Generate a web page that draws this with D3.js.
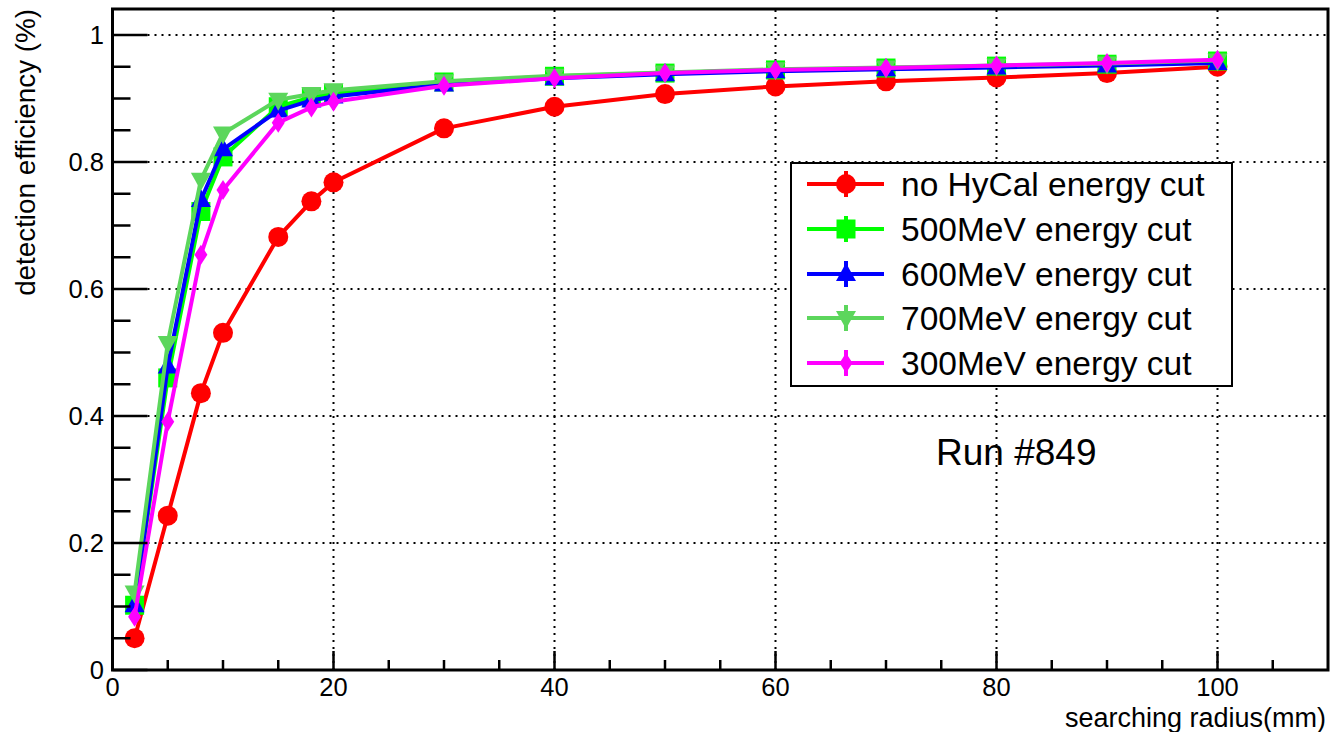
<!DOCTYPE html>
<html>
<head>
<meta charset="utf-8">
<script src="https://cdn.jsdelivr.net/npm/d3@7"></script>
<style>
  html, body { margin: 0; padding: 0; background: #fff; }
  svg { display: block; font-family: "Liberation Sans", Arial, Helvetica, sans-serif; }
</style>
</head>
<body>
<svg id="chart" width="1331" height="732"></svg>
<script>
// ---- data ----
const radius = [2, 5, 8, 10, 15, 18, 20, 30, 40, 50, 60, 70, 80, 90, 100];
const effNoCut = [0.050, 0.243, 0.436, 0.531, 0.682, 0.738, 0.768, 0.853, 0.887, 0.907, 0.919, 0.927, 0.933, 0.940, 0.950];
const eff500 = [0.102, 0.460, 0.722, 0.808, 0.887, 0.902, 0.908, 0.926, 0.935, 0.940, 0.945, 0.948, 0.951, 0.954, 0.959];
const eff600 = [0.102, 0.478, 0.740, 0.820, 0.881, 0.897, 0.903, 0.922, 0.932, 0.938, 0.943, 0.946, 0.949, 0.952, 0.956];
const eff700 = [0.122, 0.515, 0.772, 0.845, 0.898, 0.907, 0.913, 0.927, 0.936, 0.941, 0.946, 0.949, 0.952, 0.955, 0.960];
const eff300 = [0.084, 0.391, 0.654, 0.756, 0.862, 0.886, 0.895, 0.920, 0.932, 0.940, 0.945, 0.948, 0.952, 0.956, 0.961];
const seriesNames = ["no HyCal energy cut", "500MeV energy cut", "600MeV energy cut", "700MeV energy cut", "300MeV energy cut"];
const seriesColors = ["#ff0000", "#00ff00", "#0000ff", "#5cd65c", "#ff00ff"];
const seriesMarkers = ["circle", "square", "triangleUp", "triangleDown", "diamond"];
const xTicks = [0, 20, 40, 60, 80, 100];
const yTicks = [0, 0.2, 0.4, 0.6, 0.8, 1];
const xTitle = "searching radius(mm)";
const yTitle = "detection efficiency (%)";
const runLabel = "Run #849";

const seriesValues = [effNoCut, eff500, eff600, eff700, eff300];

// ---- layout ----
const svg = d3.select("#chart");
const L = 112.5, R = 1328, T = 9, B = 670;
const x = d3.scaleLinear().domain([0, 110]).range([L, R]);
const y = d3.scaleLinear().domain([0, 1]).range([B, 35]);

// grid
const grid = svg.append("g");
xTicks.filter(t => t > 0).forEach(t => {
  grid.append("line").attr("x1", x(t)).attr("x2", x(t)).attr("y1", B).attr("y2", T)
    .attr("stroke", "#000").attr("stroke-width", 2).attr("stroke-dasharray", "2,5");
});
yTicks.filter(t => t > 0).forEach(t => {
  grid.append("line").attr("x1", L).attr("x2", R).attr("y1", y(t)).attr("y2", y(t))
    .attr("stroke", "#000").attr("stroke-width", 2).attr("stroke-dasharray", "2,5");
});

// markers
function markerPath(type) {
  switch (type) {
    case "circle": return "M-10,0A10,10 0 1,0 10,0A10,10 0 1,0 -10,0Z";
    case "square": return "M-9.5,-9.5H9.5V9.5H-9.5Z";
    case "triangleUp": return "M0,-11L10,7L-10,7Z";
    case "triangleDown": return "M0,11L10,-7L-10,-7Z";
    case "diamond": return "M0,-10L6.5,0L0,10L-6.5,0Z";
  }
}

const line = d3.line().x(d => x(d[0])).y(d => y(d[1]));
const data = svg.append("g");
seriesValues.forEach((vals, i) => {
  const pts = radius.map((r, j) => [r, vals[j]]);
  data.append("path").attr("d", line(pts)).attr("fill", "none")
    .attr("stroke", seriesColors[i]).attr("stroke-width", 4).attr("stroke-linejoin", "round");
  data.selectAll(null).data(pts).enter().append("path")
    .attr("d", markerPath(seriesMarkers[i]))
    .attr("transform", d => `translate(${x(d[0])},${y(d[1])})`)
    .attr("fill", seriesColors[i]);
});

// frame
svg.append("rect").attr("x", L).attr("y", T).attr("width", R - L).attr("height", B - T)
  .attr("fill", "none").attr("stroke", "#000").attr("stroke-width", 3);

// axes ticks
const axg = svg.append("g");
d3.range(0, 110, 5).forEach(t => {
  const major = t % 20 === 0;
  axg.append("line").attr("x1", x(t)).attr("x2", x(t)).attr("y1", B).attr("y2", B - (major ? 19 : 10))
    .attr("stroke", "#000").attr("stroke-width", 2.5);
});
xTicks.forEach(t => {
  axg.append("text").attr("x", x(t)).attr("y", 696).attr("text-anchor", "middle")
    .attr("font-size", 25.5).text(t);
});
d3.range(0, 1.0001, 0.05).forEach(t => {
  const major = Math.abs(t / 0.2 - Math.round(t / 0.2)) < 1e-6;
  axg.append("line").attr("x1", L).attr("x2", L + (major ? 35 : 18)).attr("y1", y(t)).attr("y2", y(t))
    .attr("stroke", "#000").attr("stroke-width", 2.5);
});
yTicks.forEach(t => {
  axg.append("text").attr("x", 104).attr("y", y(t) + 9).attr("text-anchor", "end")
    .attr("font-size", 25.5).text(d3.format("")(+t.toFixed(1)));
});

// titles
svg.append("text").attr("x", R - 2).attr("y", 727).attr("text-anchor", "end")
  .attr("font-size", 27).text(xTitle);
svg.append("text").attr("transform", `translate(35,${T}) rotate(-90)`).attr("text-anchor", "end")
  .attr("font-size", 27.8).text(yTitle);

// run label
svg.append("text").attr("x", 936).attr("y", 465).attr("font-size", 37).text(runLabel);

// legend
const lg = svg.append("g");
lg.append("rect").attr("x", 791).attr("y", 163).attr("width", 441).attr("height", 223)
  .attr("fill", "#fff").attr("stroke", "#000").attr("stroke-width", 2);
const legY = [184, 229, 274, 318, 363];
seriesNames.forEach((name, i) => {
  const cy = legY[i];
  lg.append("line").attr("x1", 807).attr("x2", 884).attr("y1", cy).attr("y2", cy)
    .attr("stroke", seriesColors[i]).attr("stroke-width", 4);
  lg.append("line").attr("x1", 846).attr("x2", 846).attr("y1", cy - 13).attr("y2", cy + 13)
    .attr("stroke", seriesColors[i]).attr("stroke-width", 4);
  lg.append("path").attr("d", markerPath(seriesMarkers[i])).attr("transform", `translate(846,${cy})`)
    .attr("fill", seriesColors[i]);
  lg.append("text").attr("x", 901).attr("y", cy + 11.5).attr("font-size", 33.5).text(name);
});
</script>
</body>
</html>
